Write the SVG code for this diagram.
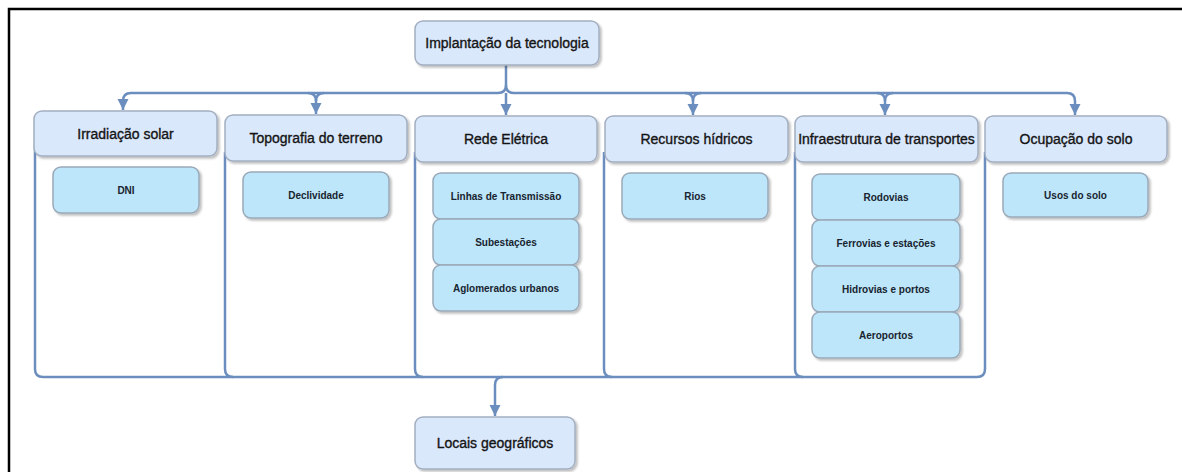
<svg xmlns="http://www.w3.org/2000/svg" width="1182" height="472" viewBox="0 0 1182 472">
<style>
.hdr{fill:#dae8fc;stroke:#a3afc0;stroke-width:1.5}
.sub{fill:#bde6fa;stroke:#9aa9b8;stroke-width:1.5}
.ht{font-family:"Liberation Sans",Arial,sans-serif;font-size:14px;fill:#141414;stroke:#141414;stroke-width:0.35;text-anchor:middle;dominant-baseline:central}
.st{font-family:"Liberation Sans",Arial,sans-serif;font-size:10px;font-weight:bold;fill:#18242f;text-anchor:middle;dominant-baseline:central}
.ln{fill:none;stroke:#6c8ebf;stroke-width:2.5}
.frame{fill:none;stroke:#000;stroke-width:2.5}
</style>
<defs>
<filter id="sh" x="-10%" y="-10%" width="130%" height="140%">
<feDropShadow dx="2" dy="2" stdDeviation="1" flood-color="#000" flood-opacity="0.25"/>
</filter>
<marker id="arr" markerUnits="userSpaceOnUse" markerWidth="12" markerHeight="12" viewBox="0 0 12 12" refX="11" refY="6" orient="auto">
<path d="M0,0.5 L11,6 L0,11.5 Z" fill="#6c8ebf"/>
</marker>
</defs>
<rect width="1182" height="472" fill="#fff"/>
<path class="frame" d="M9,472 V9 H1182"/>
<g id="connectors">
<path class="ln" d="M506,65 V85 Q506,93 498,93 H131 Q123,93 123,101 V110" marker-end="url(#arr)"/>
<path class="ln" d="M506,85 Q506,93 514,93 H1067 Q1075,93 1075,101 V115" marker-end="url(#arr)"/>
<path class="ln" d="M506,93 V115" marker-end="url(#arr)"/>
<path class="ln" d="M308,93 Q316,93 316,101 V114" marker-end="url(#arr)"/>
<path class="ln" d="M324,93 Q316,93 316,101"/>
<path class="ln" d="M685,93 Q693,93 693,101 V115" marker-end="url(#arr)"/>
<path class="ln" d="M701,93 Q693,93 693,101"/>
<path class="ln" d="M877,93 Q885,93 885,101 V115" marker-end="url(#arr)"/>
<path class="ln" d="M893,93 Q885,93 885,101"/>
<path class="ln" d="M35,145 V369 Q35,377 43,377 H977 Q985,377 985,369 V152"/>
<path class="ln" d="M225,152 V369 Q225,377 233,377"/>
<path class="ln" d="M415,152 V369 Q415,377 423,377"/>
<path class="ln" d="M604,152 V369 Q604,377 612,377"/>
<path class="ln" d="M795,152 V369 Q795,377 803,377"/>
<path class="ln" d="M503,377 Q495,377 495,385 V416" marker-end="url(#arr)"/>
</g>
<g id="n-implantacao">
<rect class="hdr" filter="url(#sh)" x="415" y="21" width="184" height="44" rx="8"/>
<text class="ht" x="507" y="43">Implantação da tecnologia</text>
</g>
<g id="n-irradiacao">
<rect class="hdr" filter="url(#sh)" x="34" y="111" width="183" height="45" rx="8"/>
<text class="ht" x="125.5" y="133.5">Irradiação solar</text>
</g>
<g id="n-topografia">
<rect class="hdr" filter="url(#sh)" x="225" y="115" width="182" height="46" rx="8"/>
<text class="ht" x="316" y="138">Topografia do terreno</text>
</g>
<g id="n-rede">
<rect class="hdr" filter="url(#sh)" x="415" y="116" width="182" height="46" rx="8"/>
<text class="ht" x="506" y="139">Rede Elétrica</text>
</g>
<g id="n-recursos">
<rect class="hdr" filter="url(#sh)" x="605" y="116" width="183" height="46" rx="8"/>
<text class="ht" x="696.5" y="139">Recursos hídricos</text>
</g>
<g id="n-infra">
<rect class="hdr" filter="url(#sh)" x="795" y="116" width="183" height="46" rx="8"/>
<text class="ht" x="886.5" y="139">Infraestrutura de transportes</text>
</g>
<g id="n-ocupacao">
<rect class="hdr" filter="url(#sh)" x="985" y="116" width="182" height="46" rx="8"/>
<text class="ht" x="1076" y="139">Ocupação do solo</text>
</g>
<g id="n-dni">
<rect class="sub" filter="url(#sh)" x="53" y="167" width="146" height="46" rx="8"/>
<text class="st" x="126" y="190">DNI</text>
</g>
<g id="n-declividade">
<rect class="sub" filter="url(#sh)" x="243" y="172" width="146" height="46" rx="8"/>
<text class="st" x="316" y="195">Declividade</text>
</g>
<g id="n-linhas">
<rect class="sub" filter="url(#sh)" x="433" y="173" width="146" height="46" rx="8"/>
<text class="st" x="506" y="196">Linhas de Transmissão</text>
</g>
<g id="n-subestacoes">
<rect class="sub" filter="url(#sh)" x="433" y="219" width="146" height="46" rx="8"/>
<text class="st" x="506" y="242">Subestações</text>
</g>
<g id="n-aglomerados">
<rect class="sub" filter="url(#sh)" x="433" y="265" width="146" height="46" rx="8"/>
<text class="st" x="506" y="288">Aglomerados urbanos</text>
</g>
<g id="n-rios">
<rect class="sub" filter="url(#sh)" x="622" y="173" width="146" height="46" rx="8"/>
<text class="st" x="695" y="196">Rios</text>
</g>
<g id="n-rodovias">
<rect class="sub" filter="url(#sh)" x="812" y="174" width="148" height="46" rx="8"/>
<text class="st" x="886" y="197">Rodovias</text>
</g>
<g id="n-ferrovias">
<rect class="sub" filter="url(#sh)" x="812" y="220" width="148" height="46" rx="8"/>
<text class="st" x="886" y="243">Ferrovias e estações</text>
</g>
<g id="n-hidrovias">
<rect class="sub" filter="url(#sh)" x="812" y="266" width="148" height="46" rx="8"/>
<text class="st" x="886" y="289">Hidrovias e portos</text>
</g>
<g id="n-aeroportos">
<rect class="sub" filter="url(#sh)" x="812" y="312" width="148" height="46" rx="8"/>
<text class="st" x="886" y="335">Aeroportos</text>
</g>
<g id="n-usos">
<rect class="sub" filter="url(#sh)" x="1003" y="173" width="145" height="44" rx="8"/>
<text class="st" x="1075.5" y="195">Usos do solo</text>
</g>
<g id="n-locais">
<rect class="hdr" filter="url(#sh)" x="415" y="417" width="160" height="52" rx="8"/>
<text class="ht" x="495" y="443">Locais geográficos</text>
</g>
</svg>
